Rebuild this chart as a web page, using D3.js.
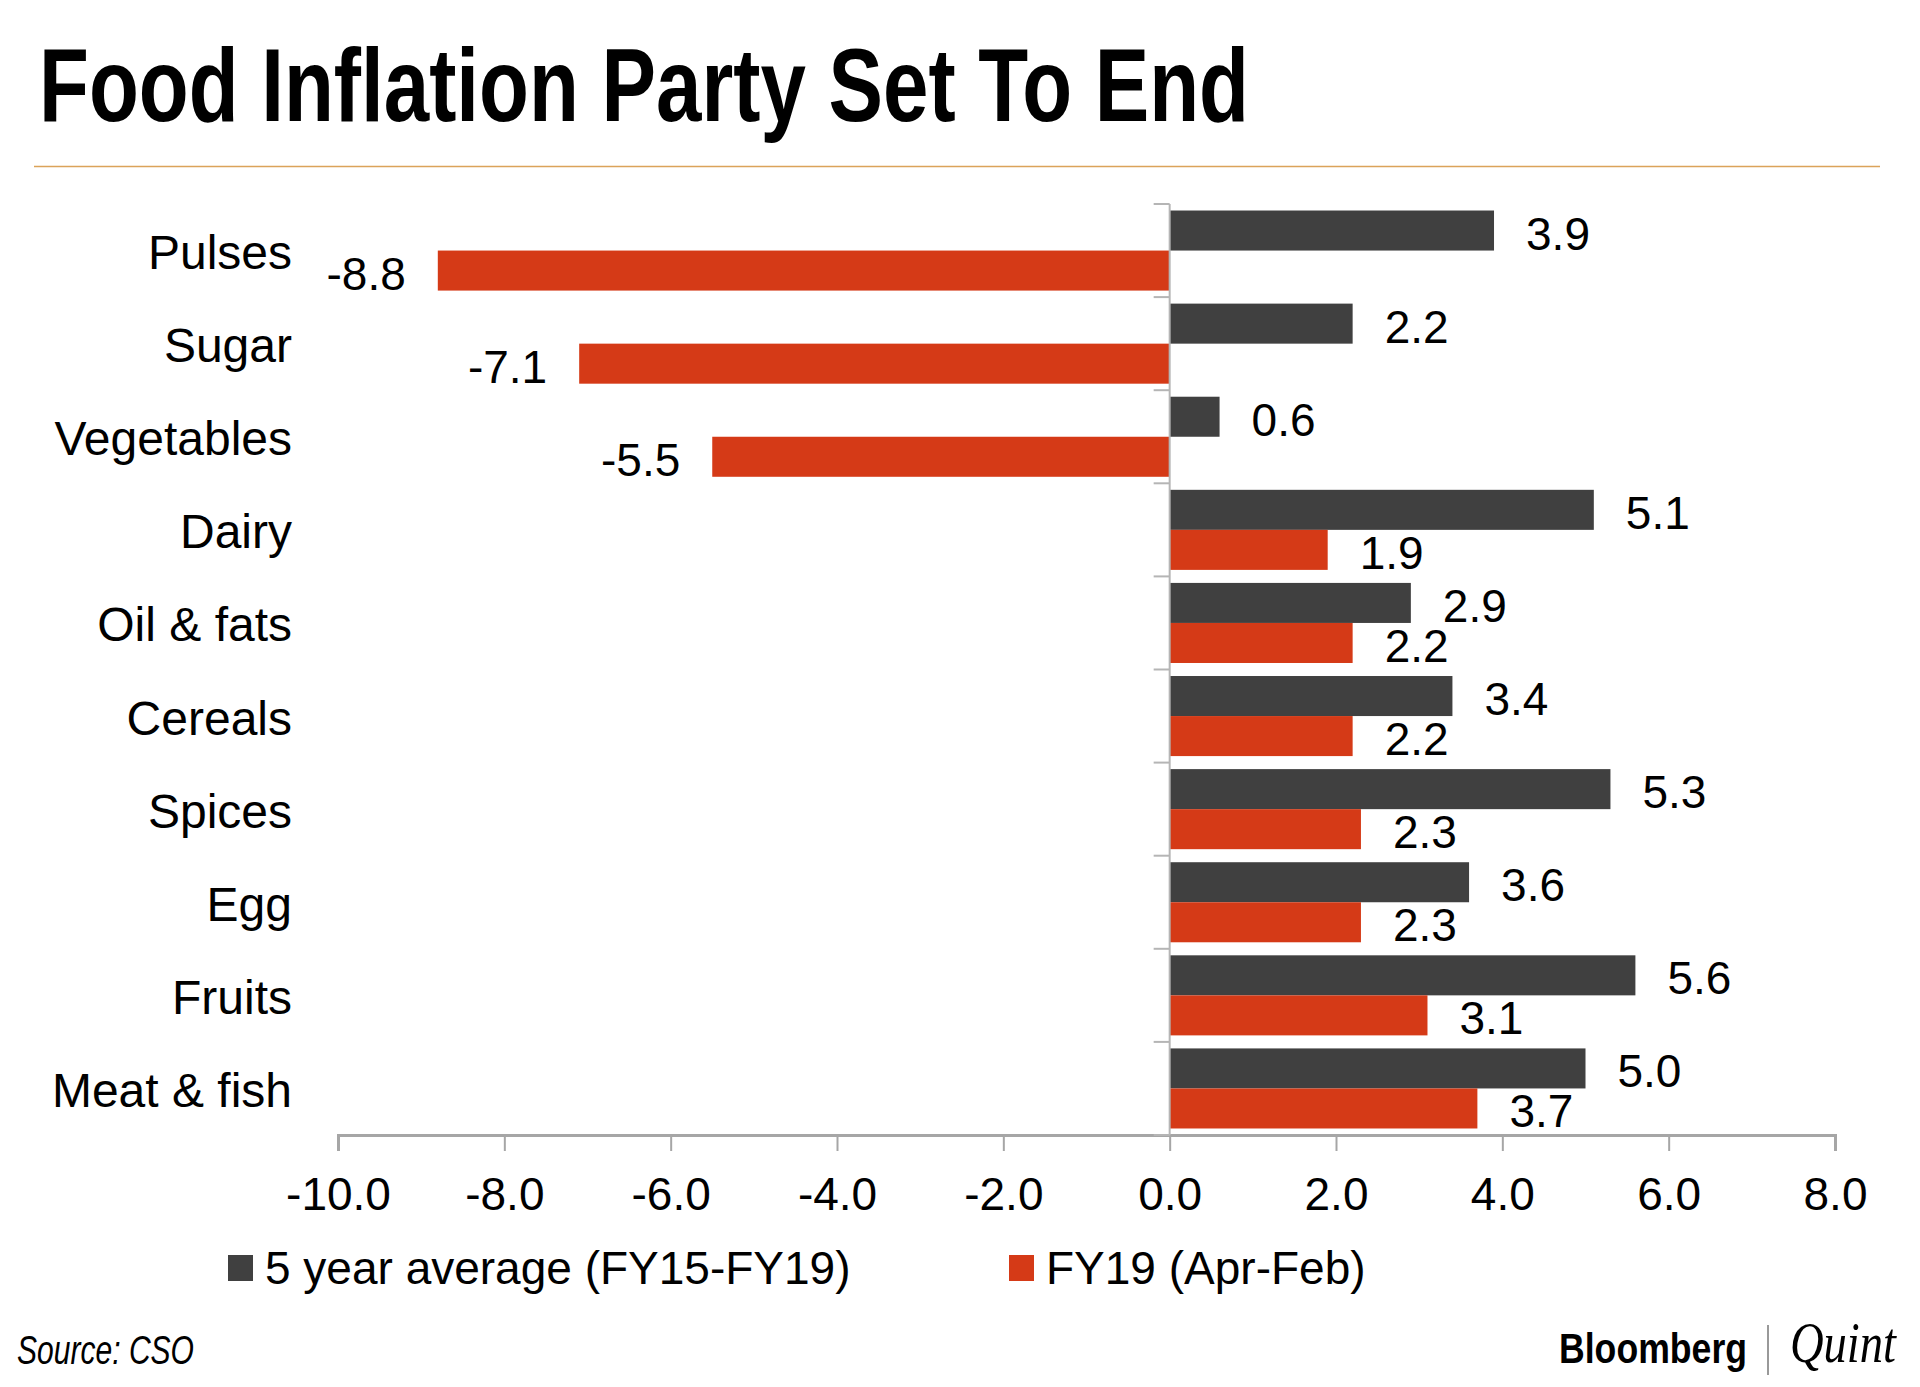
<!DOCTYPE html>
<html>
<head>
<meta charset="utf-8">
<script src="https://cdn.jsdelivr.net/npm/d3@7"></script>
<style>
  body { margin: 0; background: #fff; }
  svg { display: block; }
</style>
</head>
<body>
<svg></svg>
<script>
const categories = ["Pulses", "Sugar", "Vegetables", "Dairy", "Oil & fats", "Cereals", "Spices", "Egg", "Fruits", "Meat & fish"];
const fiveYearAvg = [3.9, 2.2, 0.6, 5.1, 2.9, 3.4, 5.3, 3.6, 5.6, 5.0];
const fy19 = [-8.8, -7.1, -5.5, 1.9, 2.2, 2.2, 2.3, 2.3, 3.1, 3.7];
const seriesNames = ["5 year average (FY15-FY19)", "FY19 (Apr-Feb)"];
const xTicks = [-10, -8, -6, -4, -2, 0, 2, 4, 6, 8];

const width = 1920;
const height = 1387;
const colors = ["#404040", "#d53a17"];
const font = "'Liberation Sans', Arial, sans-serif";
const svg = d3.select("svg");

let xScale;
let yScale;
let innerScale;

const drawCanvas = () => {
  svg.attr("width", width).attr("height", height);
  svg.append("rect").attr("width", width).attr("height", height).attr("fill", "#fff");

  svg
    .append("text")
    .attr("x", 39)
    .attr("y", 121)
    .attr("font-family", "'Liberation Sans Narrow', 'Liberation Sans', sans-serif")
    .attr("font-weight", "bold")
    .attr("font-size", 103)
    .attr("textLength", 1210)
    .attr("lengthAdjust", "spacingAndGlyphs")
    .attr("fill", "#000")
    .text("Food Inflation Party Set To End");

  svg
    .append("line")
    .attr("x1", 34)
    .attr("x2", 1880)
    .attr("y1", 166.5)
    .attr("y2", 166.5)
    .attr("stroke", "#dba35a")
    .attr("stroke-width", 1.6);
};

const generateScales = () => {
  xScale = d3.scaleLinear().domain([-10, 8]).range([338, 1835]);

  yScale = d3
    .scaleBand()
    .domain(categories)
    .range([204, 1135])
    .paddingInner(0.14)
    .paddingOuter(0.07);

  innerScale = d3.scaleBand().domain([0, 1]).range([0, yScale.bandwidth()]);
};

const drawBars = () => {
  const rows = categories.map((c, i) => ({ cat: c, vals: [fiveYearAvg[i], fy19[i]] }));

  const groups = svg
    .selectAll("g.row")
    .data(rows)
    .enter()
    .append("g")
    .attr("class", "row")
    .attr("transform", (d) => "translate(0," + yScale(d.cat) + ")");

  groups
    .selectAll("rect")
    .data((d) => d.vals)
    .enter()
    .append("rect")
    .attr("x", (v) => xScale(Math.min(0, v)))
    .attr("width", (v) => Math.abs(xScale(v) - xScale(0)))
    .attr("y", (v, i) => innerScale(i))
    .attr("height", innerScale.bandwidth())
    .attr("fill", (v, i) => colors[i]);

  // value labels, a bit beyond the bar end
  groups
    .selectAll("text")
    .data((d) => d.vals)
    .enter()
    .append("text")
    .attr("x", (v) => (v >= 0 ? xScale(v) + 32 : xScale(v) - 32))
    .attr("y", (v, i) => innerScale(i) + innerScale.bandwidth() / 2 + 3)
    .attr("dominant-baseline", "central")
    .attr("text-anchor", (v) => (v >= 0 ? "start" : "end"))
    .attr("font-family", font)
    .attr("font-size", 46)
    .attr("fill", "#000")
    .text((v) => v.toFixed(1));
};

const generateAxis = () => {
  const xAxis = d3
    .axisBottom(xScale)
    .tickValues(xTicks)
    .tickSize(16)
    .tickPadding(26)
    .tickFormat((d) => d.toFixed(1));

  const gx = svg
    .append("g")
    .attr("id", "x-axis")
    .attr("transform", "translate(0,1135)")
    .call(xAxis);

  gx.select(".domain").attr("stroke", "#a6a6a6").attr("stroke-width", 3);
  gx.selectAll(".tick line").attr("stroke", "#a6a6a6").attr("stroke-width", 2);
  gx.selectAll(".tick text")
    .attr("font-family", font)
    .attr("font-size", 46)
    .attr("fill", "#000");

  // category axis sits on zero, ticks between the bands
  const step = yScale.step();
  const bounds = d3.range(categories.length + 1).map((i) => 204 + i * step);

  svg
    .append("line")
    .attr("x1", xScale(0))
    .attr("x2", xScale(0))
    .attr("y1", 204)
    .attr("y2", 1135)
    .attr("stroke", "#b5b5b5")
    .attr("stroke-width", 2);

  svg
    .selectAll("line.ytick")
    .data(bounds)
    .enter()
    .append("line")
    .attr("class", "ytick")
    .attr("x1", xScale(0) - 16)
    .attr("x2", xScale(0))
    .attr("y1", (d) => d)
    .attr("y2", (d) => d)
    .attr("stroke", "#b5b5b5")
    .attr("stroke-width", 2);

  svg
    .selectAll("text.cat")
    .data(categories)
    .enter()
    .append("text")
    .attr("class", "cat")
    .attr("x", 292)
    .attr("y", (d) => yScale(d) + yScale.bandwidth() / 2 + 2)
    .attr("dominant-baseline", "central")
    .attr("text-anchor", "end")
    .attr("font-family", font)
    .attr("font-size", 48)
    .attr("fill", "#000")
    .text((d) => d);
};

const drawLegend = () => {
  const legendX = [228, 1009];
  const lg = svg
    .selectAll("g.legend")
    .data(seriesNames)
    .enter()
    .append("g")
    .attr("class", "legend")
    .attr("transform", (d, i) => "translate(" + legendX[i] + ",1255)");

  lg.append("rect").attr("width", 25).attr("height", 26).attr("fill", (d, i) => colors[i]);
  lg.append("text")
    .attr("x", 37)
    .attr("y", 13)
    .attr("dominant-baseline", "central")
    .attr("font-family", font)
    .attr("font-size", 46)
    .attr("fill", "#000")
    .text((d) => d);
};

const drawFooter = () => {
  svg
    .append("text")
    .attr("x", 17)
    .attr("y", 1364)
    .attr("font-family", "'Liberation Sans Narrow', 'Liberation Sans', sans-serif")
    .attr("font-style", "italic")
    .attr("font-size", 40)
    .attr("textLength", 177)
    .attr("lengthAdjust", "spacingAndGlyphs")
    .attr("fill", "#000")
    .text("Source: CSO");

  svg
    .append("text")
    .attr("x", 1559)
    .attr("y", 1363)
    .attr("font-family", font)
    .attr("font-weight", "bold")
    .attr("font-size", 42)
    .attr("textLength", 188)
    .attr("lengthAdjust", "spacingAndGlyphs")
    .attr("fill", "#000")
    .text("Bloomberg");

  svg
    .append("line")
    .attr("x1", 1768)
    .attr("x2", 1768)
    .attr("y1", 1325)
    .attr("y2", 1375)
    .attr("stroke", "#777")
    .attr("stroke-width", 1.5);

  svg
    .append("text")
    .attr("x", 1790)
    .attr("y", 1362)
    .attr("font-family", "'Liberation Serif', serif")
    .attr("font-style", "italic")
    .attr("font-size", 58)
    .attr("textLength", 106)
    .attr("lengthAdjust", "spacingAndGlyphs")
    .attr("fill", "#000")
    .text("Quint");
};

drawCanvas();
generateScales();
drawBars();
generateAxis();
drawLegend();
drawFooter();
</script>
</body>
</html>
